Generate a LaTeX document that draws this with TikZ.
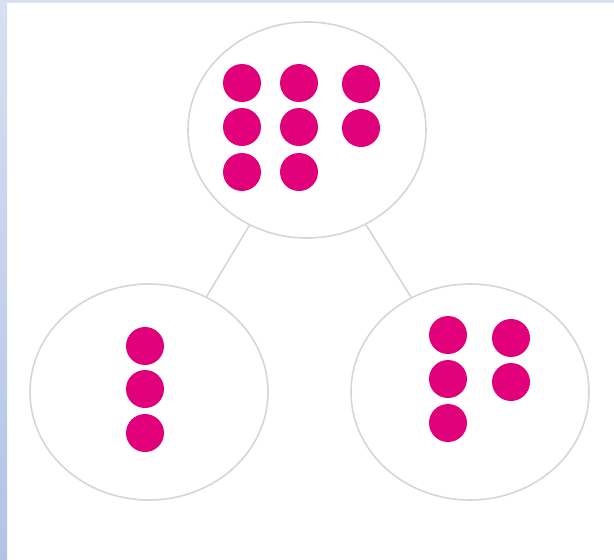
\documentclass[tikz,border=0pt]{standalone}
\usetikzlibrary{shapes}
\definecolor{dotpink}{RGB}{226,0,122}
\definecolor{rimgray}{RGB}{214,214,214}
\definecolor{edgeblue}{RGB}{216,224,242}
\definecolor{edgeblue2}{RGB}{176,196,230}

\begin{document}
\begin{tikzpicture}[x=1pt,y=-1pt,
  part/.style={ellipse, draw=rimgray, line width=1.6pt, fill=white, minimum width=238pt, minimum height=216pt, inner sep=0pt},
  counter/.style={circle, fill=dotpink, minimum size=38pt, inner sep=0pt},
  link/.style={draw=rimgray, line width=1.6pt}]
\useasboundingbox (0,0) rectangle (614,560);
\fill[white] (0,0) rectangle (614,560);
\shade[top color=edgeblue, bottom color=edgeblue2] (0,0) rectangle (7,560);
\fill[edgeblue] (0,0) rectangle (614,2.5);

\node[part] (whole) at (307,130) {};
\node[part] (left) at (149,392) {};
\node[part] (right) at (470,392) {};

\draw[link] (whole) -- (left);
\draw[link] (whole) -- (right);

\node[counter] (w1) at (242,83) {};
\node[counter] (w2) at (242,127) {};
\node[counter] (w3) at (242,172) {};
\node[counter] (w4) at (299,83) {};
\node[counter] (w5) at (299,127) {};
\node[counter] (w6) at (299,172) {};
\node[counter] (w7) at (361,84) {};
\node[counter] (w8) at (361,128) {};

\node[counter] (l1) at (145,346) {};
\node[counter] (l2) at (145,389) {};
\node[counter] (l3) at (145,433) {};

\node[counter] (r1) at (448,335) {};
\node[counter] (r2) at (448,379) {};
\node[counter] (r3) at (448,423) {};
\node[counter] (r4) at (511,338) {};
\node[counter] (r5) at (511,382) {};
\end{tikzpicture}
\end{document}
